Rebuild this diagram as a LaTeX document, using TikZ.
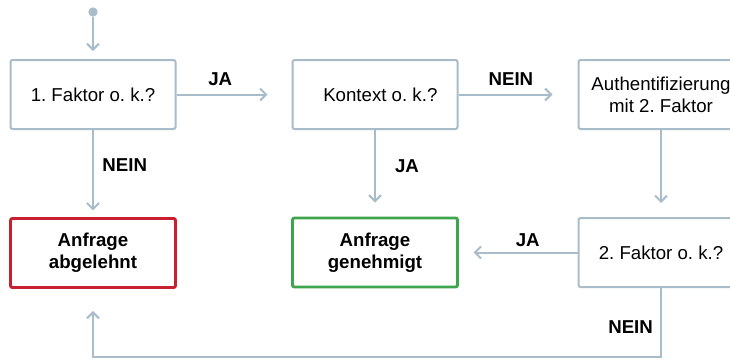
\documentclass[tikz,border=0pt]{standalone}
\usepackage{fontspec}
\setmainfont{Liberation Sans}
\usetikzlibrary{arrows.meta}

\definecolor{linie}{RGB}{168,188,202}
\definecolor{rot}{RGB}{200,32,46}
\definecolor{gruen}{RGB}{62,165,76}

\begin{document}
\frenchspacing
\begin{tikzpicture}[x=0.75pt, y=-0.75pt,
	font=\fontsize{14}{16.5}\selectfont,
	box/.style={draw=linie, line width=1.5pt, rounded corners=1.5pt, fill=white,
		minimum width=123.75pt, minimum height=51.75pt, align=center, inner sep=0pt},
	ende/.style={box, line width=2.2pt, font=\fontsize{14}{16.5}\selectfont\bfseries},
	pfeil/.style={draw=linie, line width=1.5pt, -{Straight Barb[length=4.5pt, width=9pt]}},
	antwort/.style={font=\fontsize{14}{16.5}\selectfont\bfseries}]

\useasboundingbox (0, 0) rectangle (730, 362);
\clip (0, 0) rectangle (730, 362);

\node[circle, fill=linie, minimum size=7pt, inner sep=0pt] (start) at (93, 12) {};

\node[box] (faktor1) at (93, 94.5) {1. Faktor o. k.?};
\node[box] (kontext) at (375, 94.5) {\hspace*{8pt}Kontext o. k.?};
\node[box] (auth) at (661, 94.5) {Authentifizierung\\mit 2. Faktor};

\node[ende, draw=rot] (abgelehnt) at (93, 253) {Anfrage\\abgelehnt};
\node[ende, draw=gruen] (genehmigt) at (375, 252.5) {Anfrage\\genehmigt};
\node[box] (faktor2) at (661, 252.5) {2. Faktor o. k.?};

\coordinate (unten) at (661, 357);

\draw[pfeil, shorten >=6pt] (start) -- (faktor1);

\draw[pfeil, shorten >=18pt] (faktor1) -- (kontext)
	node[antwort, pos=0.38, above=2.5pt]{JA};
\draw[pfeil, shorten >=18.75pt] (kontext) -- (auth)
	node[antwort, pos=0.44, above=2.5pt]{NEIN};
\draw[pfeil, shorten >=10.5pt] (auth) -- (faktor2);
\draw[pfeil, shorten >=11pt] (faktor2) -- (genehmigt)
	node[antwort, pos=0.42, above=0.5pt]{JA};

\draw[pfeil, shorten >=5pt] (faktor1.south) -- (abgelehnt.north)
	node[antwort, pos=0.4, right=3pt]{NEIN};
\draw[pfeil, shorten >=10.5pt] (kontext.south) -- (genehmigt.north)
	node[antwort, pos=0.42, right=11pt]{JA};

\draw[pfeil, shorten >=16.5pt] (faktor2.south) -- (unten)
	node[antwort, pos=0.56, left=2pt]{NEIN} -| (abgelehnt.south);

\end{tikzpicture}
\end{document}
